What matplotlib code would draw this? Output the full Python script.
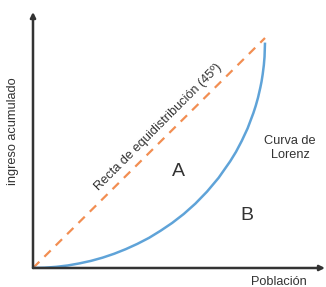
import numpy as np
import matplotlib.pyplot as plt

plt.rcParams['font.family'] = ['Liberation Sans', 'DejaVu Sans']

# equidistribution line (45 deg)
eq_x = [0.0, 1.0]
eq_y = [0.0, 1.0]

# Lorenz curve
lorenz_x = [0.0, 0.05, 0.1, 0.15, 0.2, 0.25, 0.3, 0.35, 0.4, 0.45, 0.5, 0.55, 0.6, 0.65, 0.7,
            0.75, 0.8, 0.85, 0.875, 0.9, 0.925, 0.95, 0.96, 0.97, 0.98, 0.985, 0.99, 0.995, 0.998, 1.0]
lorenz_y = [0.0, 0.0012, 0.005, 0.011, 0.02, 0.031, 0.045, 0.062, 0.082, 0.105, 0.131, 0.162,
            0.196, 0.235, 0.28, 0.332, 0.392, 0.464, 0.505, 0.553, 0.607, 0.674, 0.705, 0.741,
            0.785, 0.81, 0.842, 0.882, 0.918, 0.98]

fig = plt.figure(figsize=(3.26, 2.87), dpi=100)
ax = fig.add_axes([33/326, 19/287, 292/326, 256/287])
ax.set_xlim(0, 292/232)
ax.set_ylim(0, 256/230)
for s in ax.spines.values():
    s.set_visible(False)
ax.set_xticks([])
ax.set_yticks([])

axis_col = '#333333'
ax.annotate('', xy=(1, 0), xytext=(0, 0), xycoords='axes fraction',
            arrowprops=dict(arrowstyle='-|>,head_length=0.3,head_width=0.15', color=axis_col, lw=1.8,
                            shrinkA=0, shrinkB=0))
ax.annotate('', xy=(0, 1), xytext=(0, 0), xycoords='axes fraction',
            arrowprops=dict(arrowstyle='-|>,head_length=0.3,head_width=0.15', color=axis_col, lw=1.8,
                            shrinkA=0, shrinkB=0))

ax.plot(eq_x, eq_y, color='#f28e52', lw=1.6, dashes=(4, 3.2))
ax.plot(lorenz_x, lorenz_y, color='#5fa3d8', lw=1.8, solid_capstyle='butt')

txt = '#333333'
fig.text(13/326, 1 - 131/287, 'ingreso acumulado', rotation=90, ha='center', va='center',
         fontsize=9.2, color=txt)
fig.text(279/326, 1 - 282/287, 'Población', ha='center', va='center', fontsize=9.2, color=txt)
fig.text(290/326, 1 - 148/287, 'Curva de\nLorenz', ha='center', va='center', fontsize=9.2,
         color=txt, linespacing=1.25)
fig.text(178/326, 1 - 172/287, 'A', ha='center', va='center', fontsize=14, color=txt)
fig.text(247/326, 1 - 215/287, 'B', ha='center', va='center', fontsize=14, color=txt)
fig.text(158/326, 1 - 127/287, 'Recta de equidistribución (45º)', rotation=45,
         rotation_mode='anchor', ha='center', va='center', fontsize=9.2, color=txt)

fig.savefig('out.png', dpi=100)
